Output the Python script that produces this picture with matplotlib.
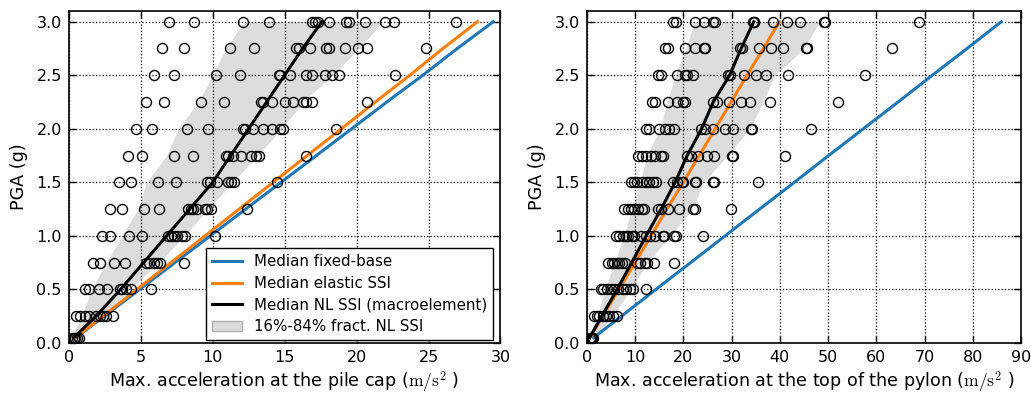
import numpy as np
import matplotlib
matplotlib.use("Agg")
import matplotlib.pyplot as plt
from matplotlib.patches import Patch
from matplotlib.lines import Line2D

plt.rcParams['font.family'] = ['DejaVu Sans']
plt.rcParams['mathtext.fontset'] = 'cm'

pga_levels = [0.05, 0.25, 0.5, 0.75, 1.0, 1.25, 1.5, 1.75, 2.0, 2.25, 2.5, 2.75, 3.0]

# NL SSI results (macroelement) per PGA level - pile cap acceleration (m/s2)
cap_points = [
    [0.2, 0.35, 0.45, 0.55, 0.7],
    [0.5, 0.78, 1.13, 1.43, 1.92, 2.15, 2.35, 2.6, 3.1],
    [1.13, 1.41, 2.1, 2.64, 3.56, 3.72, 3.96, 4.33, 5.69],
    [1.7, 2.2, 3.15, 3.9, 5.4, 5.6, 5.9, 6.15, 6.35, 8.0],
    [2.3, 2.9, 4.2, 5.1, 6.9, 7.1, 7.3, 7.5, 7.85, 8.1, 10.15],
    [2.9, 3.7, 5.2, 6.3, 8.3, 8.5, 8.65, 8.9, 9.5, 9.6, 9.9, 12.4],
    [3.5, 4.3, 6.2, 7.45, 9.6, 9.8, 10.3, 11.1, 11.3, 11.5, 14.45],
    [4.1, 5.1, 7.3, 8.65, 10.9, 11.05, 11.4, 12.0, 12.65, 13.0, 13.2, 16.5],
    [4.7, 5.8, 8.2, 9.7, 12.1, 12.25, 12.8, 13.5, 14.1, 14.7, 14.9, 18.6],
    [5.35, 6.6, 9.2, 10.8, 13.35, 13.5, 14.1, 15.0, 15.6, 16.3, 16.5, 16.9, 20.7],
    [5.9, 7.3, 10.2, 11.9, 14.6, 14.7, 15.4, 16.5, 16.9, 17.8, 18.3, 18.8, 22.7],
    [6.5, 8.0, 11.2, 12.9, 15.8, 16.0, 16.8, 17.9, 18.1, 19.2, 20.1, 20.7, 24.8],
    [7.0, 8.7, 12.1, 13.9, 16.9, 17.1, 17.3, 18.1, 19.3, 19.5, 20.6, 22.0, 22.6, 26.9],
]

# NL SSI results per PGA level - pylon top acceleration (m/s2)
pylon_points = [
    [0.6, 0.9, 1.1, 1.3],
    [1.5, 2.07, 2.6, 3.3, 4.0, 4.68, 5.38, 6.33],
    [2.9, 3.4, 4.1, 4.97, 5.7, 6.5, 7.45, 8.13, 8.96, 9.65, 12.2],
    [4.47, 5.17, 5.7, 6.2, 6.75, 7.24, 7.93, 10.35, 11.03, 12.06, 12.4, 13.9, 18.1],
    [6.06, 6.75, 7.45, 8.13, 8.6, 9.3, 9.8, 11.2, 12.2, 13.2, 14.1, 15.7, 16.06, 18.06, 18.4, 24.0],
    [7.8, 8.5, 9.2, 9.85, 10.7, 11.4, 11.9, 14.8, 15.3, 16.8, 19.1, 22.1, 22.4, 29.8],
    [9.1, 9.8, 10.5, 11.4, 12.2, 12.9, 13.65, 14.3, 17.9, 18.6, 19.65, 20.0, 22.4, 22.6, 26.2, 26.4, 35.5],
    [10.68, 11.38, 12.27, 13.24, 14.13, 15.37, 15.85, 20.7, 21.7, 23.1, 24.95, 26.4, 30.0, 30.2, 41.0],
    [12.3, 12.9, 15.0, 16.2, 17.0, 18.1, 23.6, 24.5, 26.2, 28.6, 30.3, 34.1, 34.3, 46.4],
    [13.45, 14.1, 16.9, 18.6, 20.0, 20.3, 26.2, 26.9, 29.5, 31.9, 33.8, 37.9, 52.1],
    [14.7, 15.3, 18.6, 20.3, 20.7, 22.1, 29.2, 29.65, 32.6, 35.0, 37.2, 41.7, 57.7],
    [16.2, 16.9, 20.3, 22.4, 24.3, 24.6, 31.7, 32.2, 35.7, 38.1, 40.6, 45.4, 45.6, 63.2],
    [17.9, 18.5, 22.4, 24.3, 26.2, 26.5, 34.5, 34.6, 34.7, 38.6, 41.4, 44.1, 49.2, 49.3, 68.8],
]

# median / fractile curves
cap_fixed = [0.49, 2.46, 4.92, 7.37, 9.83, 12.29, 14.75, 17.2, 19.66, 22.1, 24.6, 27.0, 29.5]
cap_elastic = [0.47, 2.37, 4.73, 7.1, 9.47, 11.84, 14.2, 16.57, 18.94, 21.3, 23.7, 26.0, 28.4]
cap_nl = [0.35, 1.9, 3.6, 5.2, 6.8, 8.4, 10.0, 11.25, 12.5, 13.75, 15.0, 16.25, 17.6]
cap_p16 = [0.15, 0.9, 1.6, 2.6, 3.7, 4.8, 5.4, 6.8, 7.6, 9.0, 10.0, 10.9, 12.2]
cap_p84 = [0.6, 2.5, 4.2, 6.3, 8.0, 9.7, 11.4, 13.1, 14.8, 16.3, 18.3, 20.2, 21.8]

pylon_fixed = [1.43, 7.16, 14.3, 21.5, 28.65, 35.8, 43.0, 50.1, 57.3, 64.5, 71.6, 78.8, 85.9]
pylon_elastic = [0.67, 3.3, 6.65, 10.0, 13.3, 16.6, 20.0, 23.3, 26.6, 29.9, 33.2, 36.6, 39.9]
pylon_nl = [0.6, 3.1, 6.3, 9.3, 12.3, 15.4, 18.3, 20.8, 23.8, 26.2, 29.6, 32.0, 34.6]
pylon_p16 = [0.3, 2.1, 3.8, 5.7, 7.7, 9.3, 11.0, 12.5, 15.1, 16.7, 18.3, 20.5, 22.3]
pylon_p84 = [1.5, 5.3, 9.2, 12.5, 17.3, 21.9, 24.2, 29.1, 33.8, 36.5, 39.0, 45.0, 48.2]

legend_labels = ["Median fixed-base", "Median elastic SSI",
                 "Median NL SSI (macroelement)", "16%-84% fract. NL SSI"]

BLUE = '#1f77b4'
ORANGE = '#ff7f0e'
BAND = '#dcdcdc'

fig = plt.figure(figsize=(10.33, 3.96), dpi=100)
ax1 = fig.add_axes([0.0665, 0.1338, 0.418, 0.8384])
ax2 = fig.add_axes([0.568, 0.1338, 0.4205, 0.8384])


def draw(ax, pts, fixed, elastic, nl, p16, p84, xmax, xticks, xlabel):
    ax.fill_betweenx(pga_levels, p16, p84, color=BAND, lw=0, zorder=1)
    ax.plot(fixed, pga_levels, color=BLUE, lw=2.2, zorder=2)
    ax.plot(elastic, pga_levels, color=ORANGE, lw=2.2, zorder=2)
    ax.plot(nl, pga_levels, color='black', lw=2.2, zorder=2)
    for lvl, xs in zip(pga_levels, pts):
        ax.plot(xs, [lvl] * len(xs), 'o', mfc='none', mec='black', ms=7.2,
                mew=1.0, zorder=3)
    ax.set_xlim(0, xmax)
    ax.set_ylim(0, 3.1)
    ax.set_xticks(xticks)
    ax.set_yticks(np.arange(0, 3.01, 0.5))
    ax.yaxis.set_major_formatter(matplotlib.ticker.FormatStrFormatter('%.1f'))
    ax.grid(True, color='black', linestyle=':', linewidth=0.9)
    ax.set_axisbelow('line')
    ax.tick_params(direction='in', top=True, right=True, length=5, width=1,
                   labelsize=11.5, pad=5)
    for s in ax.spines.values():
        s.set_linewidth(1.2)
    ax.set_xlabel(xlabel, fontsize=12.6, labelpad=3.5)
    ax.set_ylabel('PGA (g)', fontsize=12.6, labelpad=6)


draw(ax1, cap_points, cap_fixed, cap_elastic, cap_nl, cap_p16, cap_p84,
     30, np.arange(0, 31, 5),
     'Max. acceleration at the pile cap ($\\mathrm{m/s^2}$ )')
draw(ax2, pylon_points, pylon_fixed, pylon_elastic, pylon_nl, pylon_p16,
     pylon_p84, 90, np.arange(0, 91, 10),
     'Max. acceleration at the top of the pylon ($\\mathrm{m/s^2}$ )')

handles = [Line2D([], [], color=BLUE, lw=2.2),
           Line2D([], [], color=ORANGE, lw=2.2),
           Line2D([], [], color='black', lw=2.2),
           Patch(facecolor=BAND, edgecolor='#b0b0b0')]
leg = ax1.legend(handles, legend_labels, loc='lower right',
                 bbox_to_anchor=(0.983, 0.008), fontsize=10.8, fancybox=False,
                 framealpha=1, edgecolor='black', borderaxespad=0,
                 handlelength=2.0, labelspacing=0.45)
leg.get_frame().set_linewidth(1.0)

fig.savefig('out.png', dpi=100)
